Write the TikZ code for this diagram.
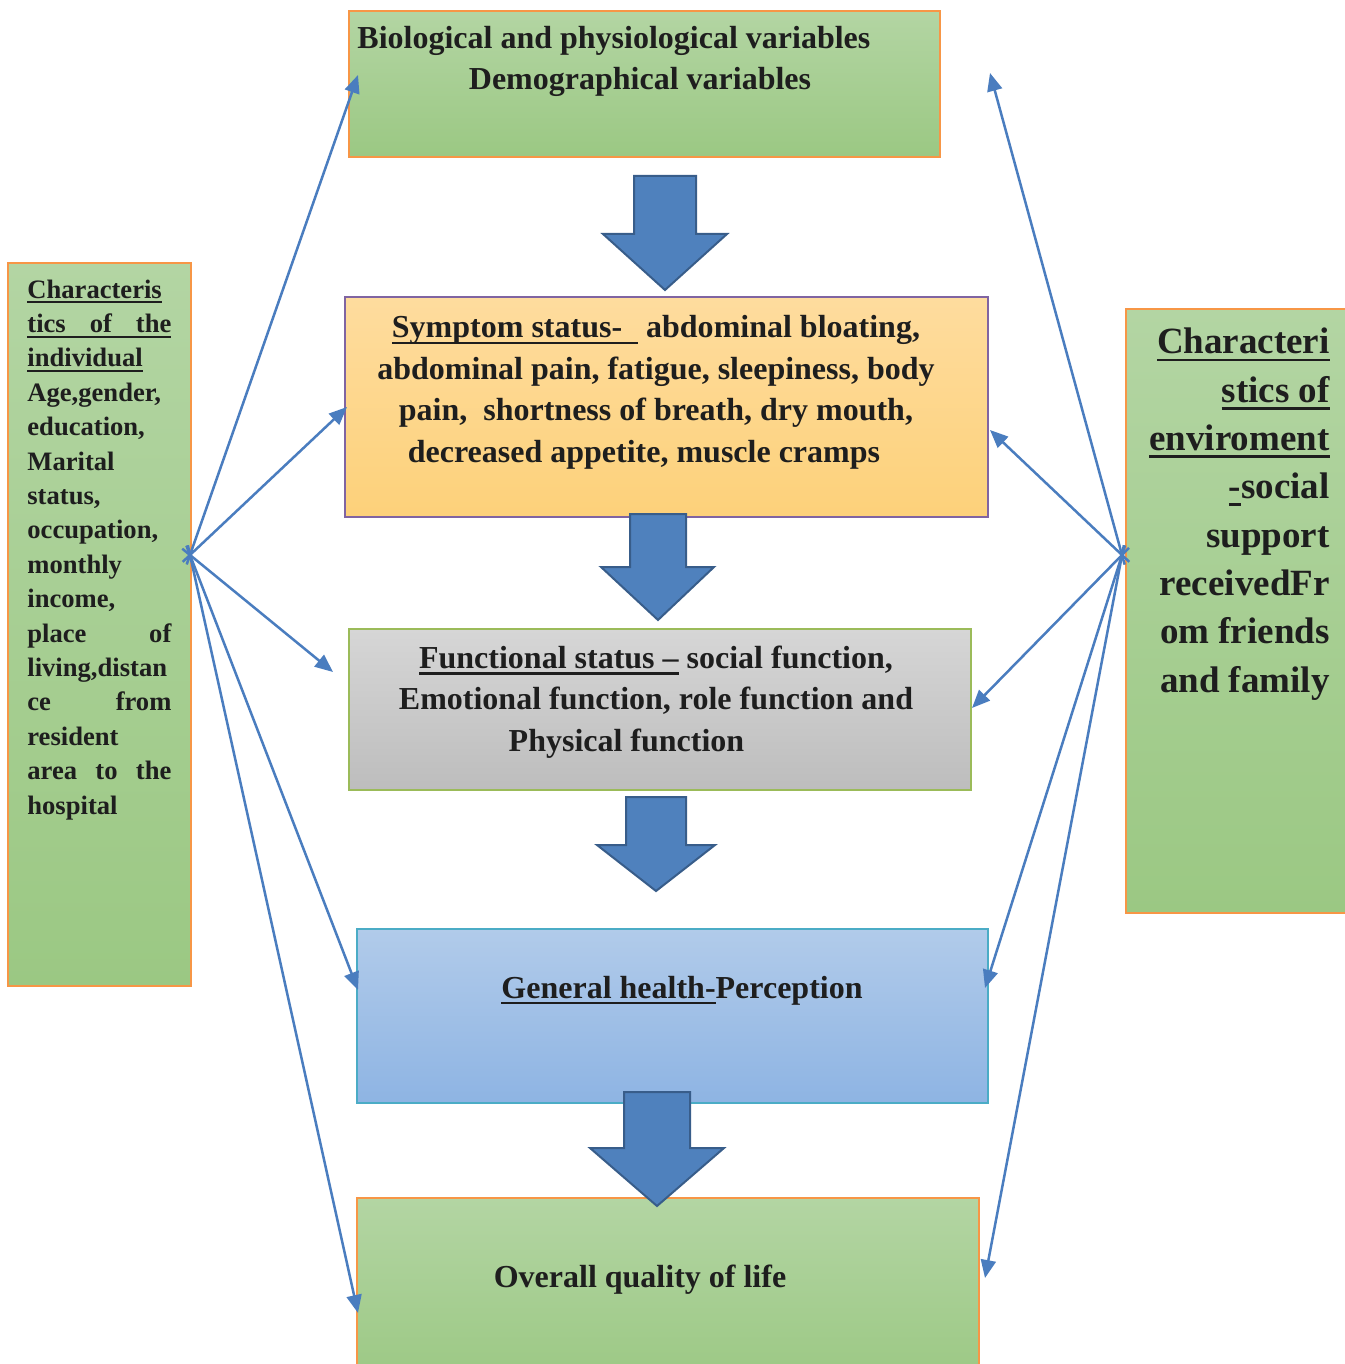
\documentclass[tikz,border=0pt]{standalone}
\usepackage{fontspec}
\setmainfont{Liberation Serif}
\usetikzlibrary{arrows.meta}
\definecolor{gTop}{HTML}{B3D5A3}
\definecolor{gBot}{HTML}{9BC883}
\definecolor{oBorder}{HTML}{F79646}
\definecolor{yTop}{HTML}{FEDC9E}
\definecolor{yBot}{HTML}{FDD17A}
\definecolor{pBorder}{HTML}{8064A2}
\definecolor{sTop}{HTML}{D6D6D6}
\definecolor{sBot}{HTML}{BDBDBD}
\definecolor{lgBorder}{HTML}{9BBB59}
\definecolor{bTop}{HTML}{B1CBEA}
\definecolor{bBot}{HTML}{8EB4E3}
\definecolor{cBorder}{HTML}{4BACC6}
\definecolor{blockFill}{HTML}{4F81BD}
\definecolor{blockLine}{HTML}{385D8A}
\definecolor{linkCol}{HTML}{4A7DBF}
\definecolor{txtCol}{HTML}{1E1E1E}
\newcommand\myul[1]{\leavevmode\setbox0\hbox{#1}\rlap{\rule[-0.2em]{\wd0}{0.075em}}\box0}
\newcommand\jline[1]{\leavevmode\hbox to 72pt{#1}}
\begin{document}
\begin{tikzpicture}[x=0.5pt,y=-0.5pt,
  boxbase/.style={rectangle, line width=1pt, inner sep=0pt, anchor=north west},
  greenbox/.style={boxbase, draw=oBorder, top color=gTop, bottom color=gBot},
  yellowbox/.style={boxbase, draw=pBorder, top color=yTop, bottom color=yBot},
  greybox/.style={boxbase, draw=lgBorder, top color=sTop, bottom color=sBot},
  bluebox/.style={boxbase, draw=cBorder, top color=bTop, bottom color=bBot},
  blockarrow/.style={fill=blockFill, draw=blockLine, line width=1pt, line join=miter},
  link/.style={draw=linkCol, line width=1.25pt, shorten <=-5pt, -{Triangle[length=9pt,width=7.5pt]}},
  txt/.style={text=txtCol, inner sep=0pt, font=\bfseries\fontsize{16}{20.7}\selectfont},
  ltxt/.style={text=txtCol, inner sep=0pt, font=\bfseries\fontsize{13.3}{17.2}\selectfont, text width=72pt, align=left},
  rtxt/.style={text=txtCol, inner sep=0pt, font=\bfseries\fontsize{18.5}{24.15}\selectfont, align=right}
]
\useasboundingbox (0,0) rectangle (1344,1364);
\fill[white] (0,0) rectangle (1344,1364);

% boxes
\node[greenbox, minimum width=295.5pt, minimum height=73pt] (top) at (348,10) {};
\node[yellowbox, minimum width=321.5pt, minimum height=110pt] (sym) at (344,296) {};
\node[greybox, minimum width=311pt, minimum height=80.5pt] (fun) at (348,628) {};
\node[bluebox, minimum width=315.5pt, minimum height=87pt] (gen) at (356,928) {};
\node[greenbox, minimum width=311pt, minimum height=95pt] (ovr) at (356,1197) {};
\node[greenbox, minimum width=91.5pt, minimum height=361.5pt] (lbox) at (7,262) {};
\node[greenbox, minimum width=120pt, minimum height=302pt] (rbox) at (1125,308) {};

% texts
\node[txt, anchor=base west] (topT1) at (357,49) {Biological and physiological variables};
\node[txt, anchor=base] (topT2) at (640,90) {Demographical variables};

\node[txt, anchor=base, align=center] (symT) at (656,462) {\myul{Symptom status-\ \ }\ abdominal bloating,\\
abdominal pain, fatigue, sleepiness, body\\
pain,\ \ shortness of breath, dry mouth,\\
decreased appetite, muscle cramps\hspace*{12pt}};

\node[txt, anchor=base, align=center] (funT) at (656,751) {\myul{Functional status --}\ social function,\\
Emotional function, role function and\\
Physical function\hspace*{29.5pt}};

\node[txt, anchor=base] (genT) at (682,998) {\myul{General health-}Perception};
\node[txt, anchor=base] (ovrT) at (640,1287) {Overall quality of life};

\node[ltxt, anchor=base west] (lT) at (27,298) {\myul{Characteris}\\
\myul{\jline{tics\hfill of\hfill the}}\\
\myul{individual}\\
Age,gender,\\
education,\\
Marital\\
status,\\
occupation,\\
monthly\\
income,\\
\jline{place\hfill of}\\
living,distan\\
\jline{ce\hfill from}\\
resident\\
\jline{area\hfill to\hfill the}\\
hospital};

\node[rtxt, anchor=base east] (rT) at (1330,692) {\myul{Characteri}\\
\myul{stics of}\\
\myul{enviroment}\\
\myul{-}social\\
support\\
receivedFr\\
om friends\\
and family};

% block arrows
\path[blockarrow] (634,176) -- (696,176) -- (696,234) -- (727,234) -- (665,290) -- (603,234) -- (634,234) -- cycle;
\path[blockarrow] (630,514) -- (686,514) -- (686,567) -- (714,567) -- (658,620) -- (601,567) -- (630,567) -- cycle;
\path[blockarrow] (626,797) -- (686,797) -- (686,845) -- (715,845) -- (656,891) -- (597,845) -- (626,845) -- cycle;
\path[blockarrow] (624,1092) -- (690,1092) -- (690,1148) -- (724,1148) -- (657,1206) -- (590,1148) -- (624,1148) -- cycle;

% hubs and targets
\coordinate (hubL) at (190,555);
\coordinate (hubR) at (1122,555);
\coordinate (tL1) at (358,75);
\coordinate (tL2) at (347,407);
\coordinate (tL3) at (333,672);
\coordinate (tL4) at (358,990);
\coordinate (tL5) at (358,1313);
\coordinate (tR1) at (990,73);
\coordinate (tR2) at (990,430);
\coordinate (tR3) at (972,708);
\coordinate (tR4) at (985,988);
\coordinate (tR5) at (985,1278);

\foreach \t in {tL1,tL2,tL3,tL4,tL5} \draw[link] (hubL) -- (\t);
\foreach \t in {tR1,tR2,tR3,tR4,tR5} \draw[link] (hubR) -- (\t);
\end{tikzpicture}
\end{document}
